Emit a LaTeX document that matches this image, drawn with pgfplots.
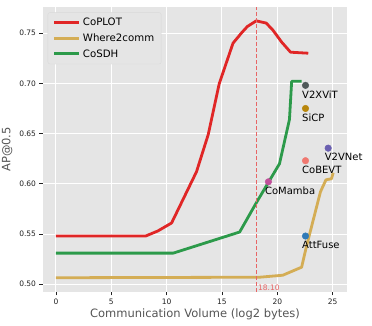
\documentclass[border=0pt]{standalone}
\usepackage{pgfplots}
\pgfplotsset{compat=1.18}
\usepackage{fontspec}
\setmainfont{DejaVu Sans}
\definecolor{bgcol}{HTML}{E5E5E5}
\definecolor{tickcol}{HTML}{222222}
\definecolor{labcol}{HTML}{555555}
\definecolor{cred}{HTML}{E02626}
\definecolor{cyel}{HTML}{D4AD55}
\definecolor{cgreen}{HTML}{2C9A4A}
\definecolor{cvline}{HTML}{E86565}
\definecolor{mv2x}{HTML}{505A5A}
\definecolor{msicp}{HTML}{B8860B}
\definecolor{mv2v}{HTML}{6A5FB0}
\definecolor{mcobevt}{HTML}{F07870}
\definecolor{mcomamba}{HTML}{C0509A}
\definecolor{mattfuse}{HTML}{2F7AB8}
\begin{document}
\begin{tikzpicture}
\useasboundingbox (0,0) rectangle (372pt,326pt);
\begin{axis}[
  at={(43pt,34pt)}, anchor=south west,
  scale only axis, width=304pt, height=285pt,
  clip=false,
  xmin=-1.17, xmax=26.3, ymin=0.4923, ymax=0.776,
  axis background/.style={fill=bgcol},
  axis line style={draw=none},
  grid=major, major grid style={white, line width=0.9pt},
  xtick={0,5,10,15,20,25}, ytick={0.5,0.55,0.6,0.65,0.7,0.75},
  tick align=outside, xtick pos=left, ytick pos=left,
  major tick length=3.5pt, tick style={color=tickcol, line width=0.7pt},
  ticklabel style={font=\fontsize{7.5}{9}\selectfont, text=tickcol},
  yticklabel style={/pgf/number format/fixed, /pgf/number format/precision=2, /pgf/number format/fixed zerofill},
  /pgf/number format/assume math mode=true,
  xlabel={Communication Volume (log2 bytes)},
  ylabel={AP@0.5},
  label style={font=\fontsize{11.5}{13}\selectfont, text=labcol},
  xlabel style={yshift=2.5pt},
  legend style={at={(0.0155,0.981)}, anchor=north west, fill=bgcol, draw=white!85!black,
    rounded corners=2pt, font=\fontsize{10.2}{12}\selectfont, text=black,
    row sep=2.5pt, inner xsep=5pt, inner ysep=3.5pt},
  legend cell align=left,
  legend image code/.code={\draw[#1, line width=3pt] (0pt,0pt) -- (25pt,0pt);},
]
\addplot[cred, line width=2.8pt, line join=round] coordinates {
(0,0.548)(8.1,0.548)(9.2,0.553)(10.45,0.561)(12.7,0.612)(13.76,0.649)(14.75,0.6995)(16.0,0.740)(16.8,0.7506)(17.3,0.7566)(18.1,0.7622)(19.0,0.760)(19.6,0.753)(20.4,0.741)(21.2,0.731)(22.8,0.730)};
\addlegendentry{CoPLOT}
\addplot[cyel, line width=2.8pt, line join=round] coordinates {
(0,0.5065)(18.4,0.507)(20.5,0.509)(22.2,0.517)(22.6,0.536)(23.9,0.592)(24.4,0.604)(24.9,0.605)(25.05,0.611)};
\addlegendentry{Where2comm}
\addplot[cgreen, line width=2.8pt, line join=round] coordinates {
(0,0.531)(10.6,0.531)(16.6,0.552)(18.1,0.581)(20.2,0.620)(21.1,0.664)(21.3,0.702)(22.2,0.702)};
\addlegendentry{CoSDH}
\addplot[cvline, line width=1.1pt, dash pattern=on 4pt off 2pt, forget plot] coordinates {(18.1,0.4923)(18.1,0.776)};
\addplot[only marks, mark=*, mark size=3.3pt, mv2x, forget plot] coordinates {(22.55,0.698)};
\addplot[only marks, mark=*, mark size=3.3pt, msicp, forget plot] coordinates {(22.55,0.675)};
\addplot[only marks, mark=*, mark size=3.3pt, mv2v, forget plot] coordinates {(24.6,0.6355)};
\addplot[only marks, mark=*, mark size=3.3pt, mcobevt, forget plot] coordinates {(22.55,0.623)};
\addplot[only marks, mark=*, mark size=3.3pt, mcomamba, forget plot] coordinates {(19.2,0.602)};
\addplot[only marks, mark=*, mark size=3.3pt, mattfuse, forget plot] coordinates {(22.55,0.548)};
\begin{scope}[every node/.style={anchor=north west, inner sep=0pt, font=\fontsize{10}{12}\selectfont}]
\node[xshift=-3.5pt, yshift=-5pt] at (axis cs:22.55,0.698) {V2XViT};
\node[xshift=-3.5pt, yshift=-5pt] at (axis cs:22.55,0.675) {SiCP};
\node[xshift=-3.5pt, yshift=-5pt] at (axis cs:24.6,0.6355) {V2VNet};
\node[xshift=-3.5pt, yshift=-5pt] at (axis cs:22.55,0.623) {CoBEVT};
\node[xshift=-3.5pt, yshift=-5pt] at (axis cs:19.2,0.602) {CoMamba};
\node[xshift=-3.5pt, yshift=-5pt] at (axis cs:22.55,0.548) {AttFuse};
\end{scope}
\node[anchor=south west, inner sep=0pt, text=cvline, font=\fontsize{7.5}{9}\selectfont] at (axis cs:18.25,0.4935) {18.10};
\end{axis}
\end{tikzpicture}
\end{document}
